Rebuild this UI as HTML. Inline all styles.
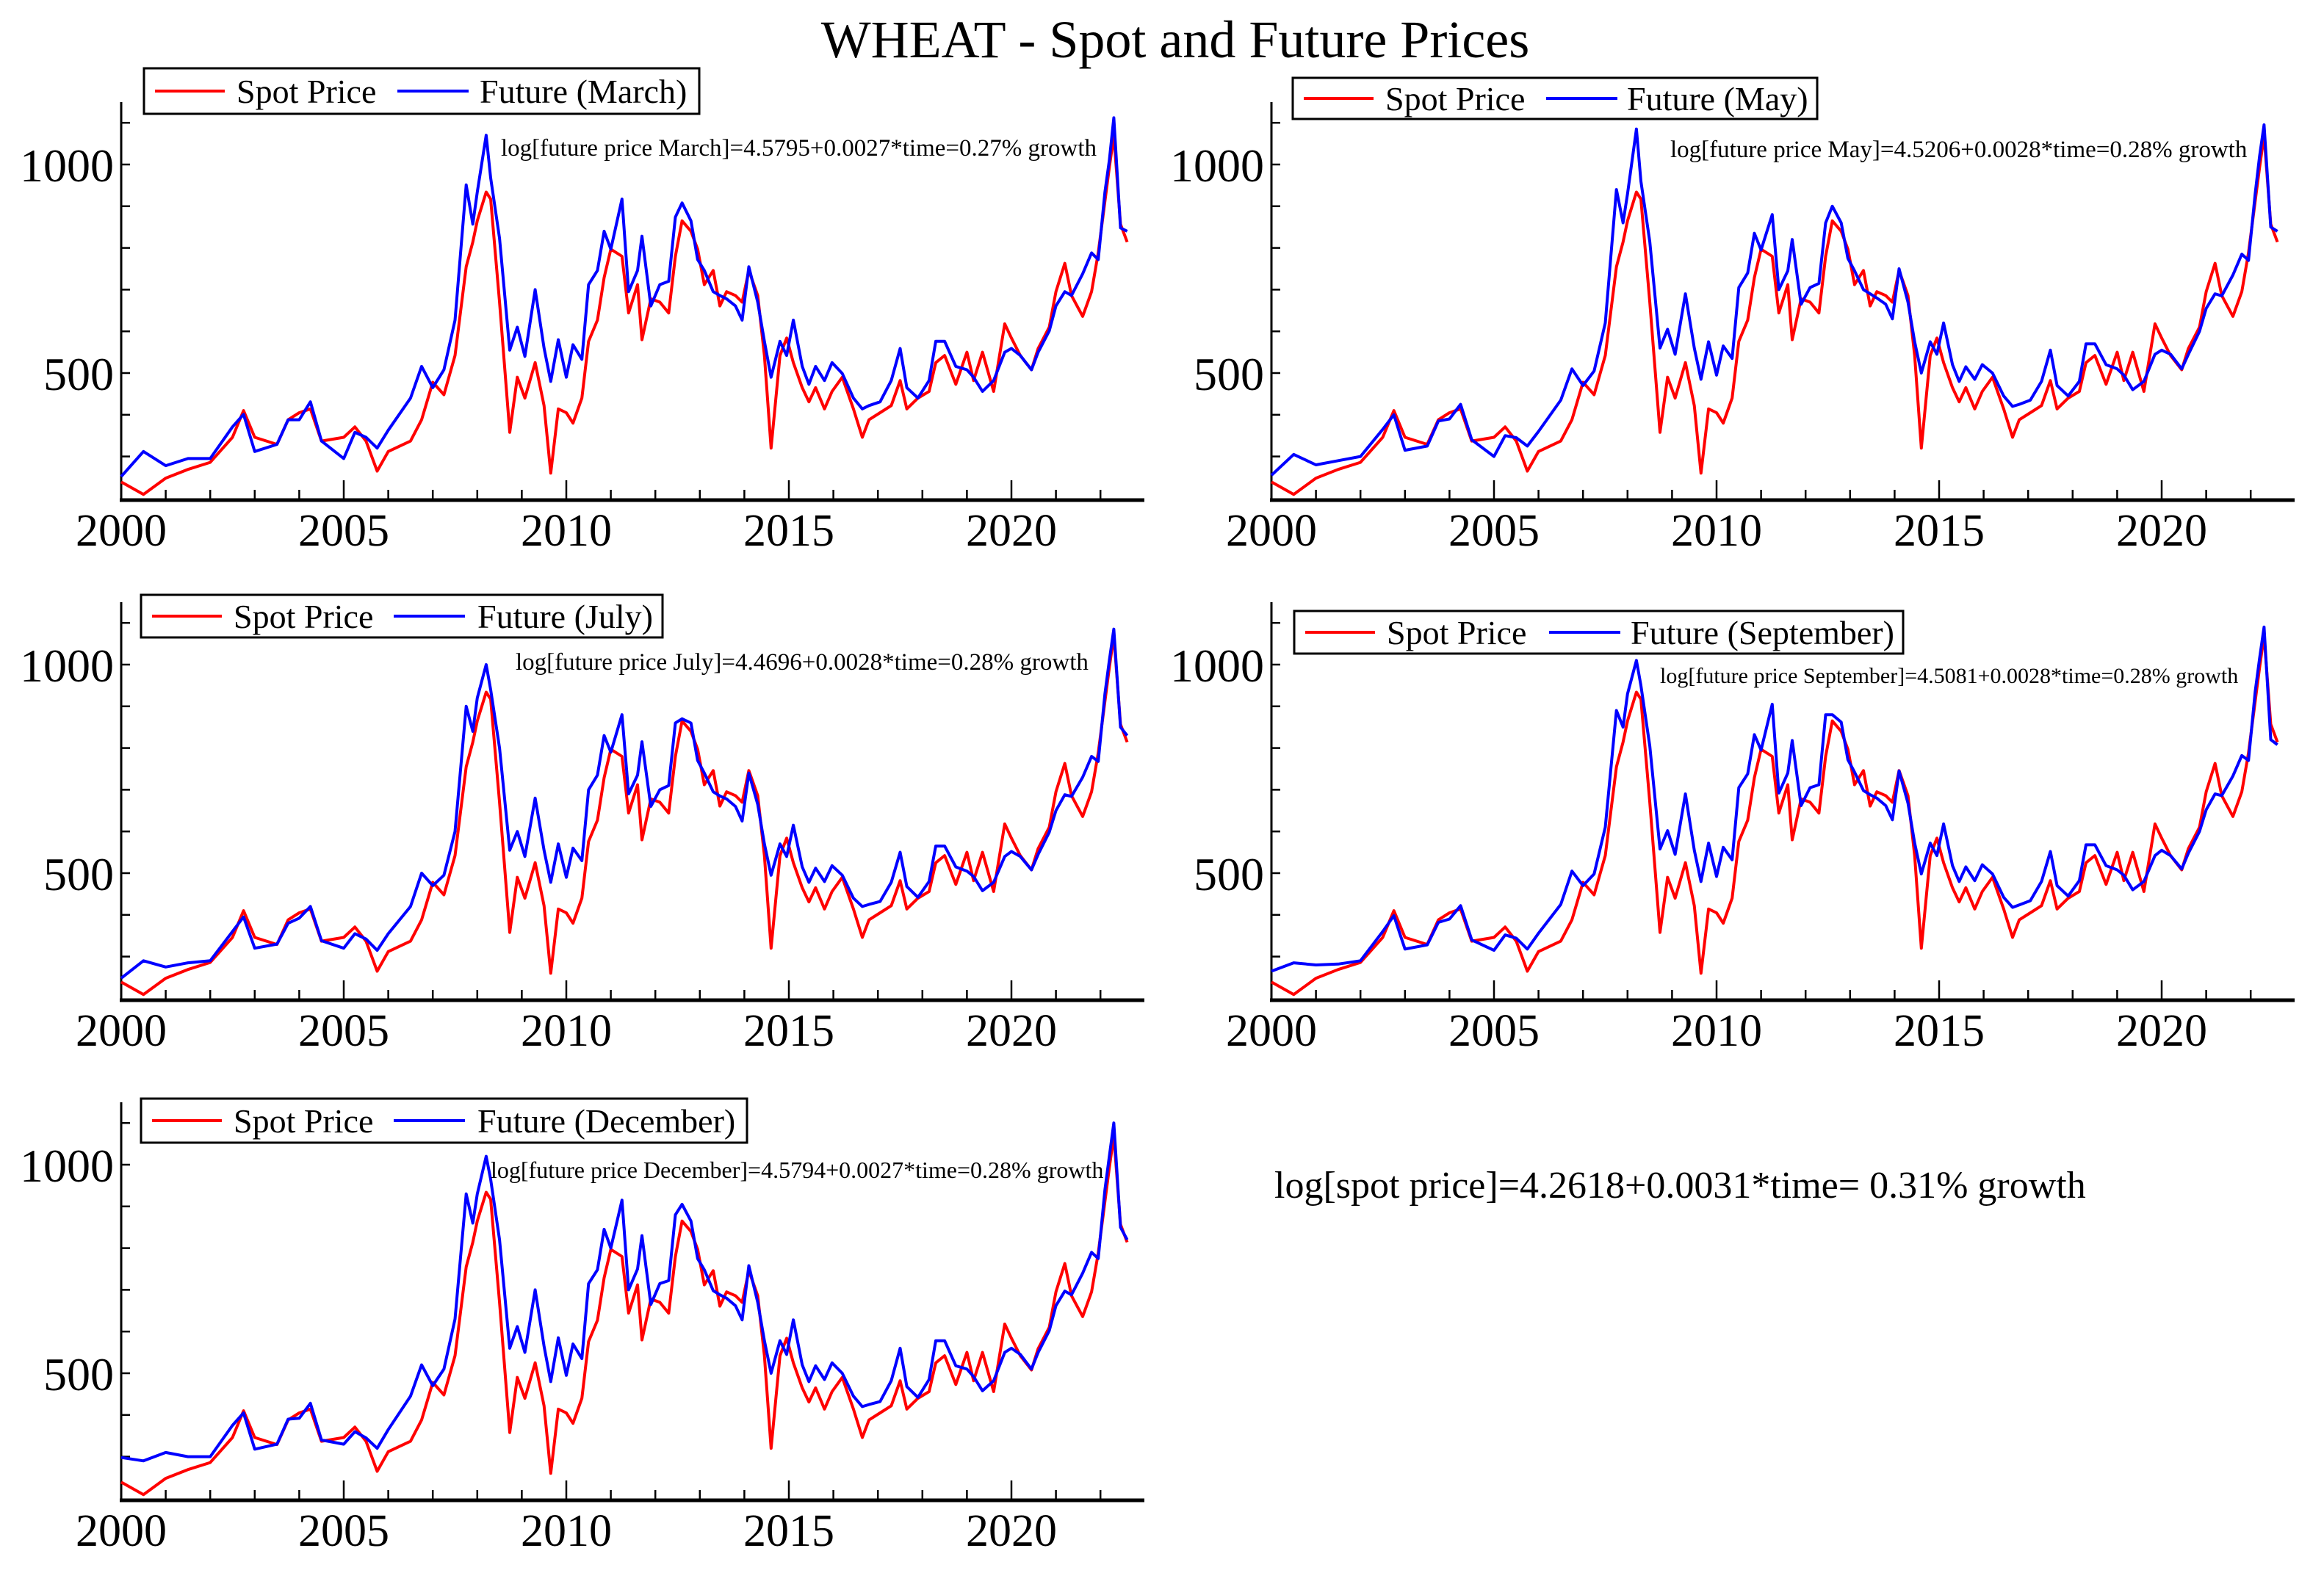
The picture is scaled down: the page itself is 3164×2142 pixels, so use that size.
<!DOCTYPE html>
<html><head><meta charset="utf-8"><style>
html,body{margin:0;padding:0;background:#fff;}
svg{display:block;}
text{font-family:"Liberation Serif",serif;fill:#000;}
</style></head>
<body>
<svg id="chart" width="3164" height="2142" viewBox="0 0 3164 2142" xmlns="http://www.w3.org/2000/svg">
<rect x="0" y="0" width="3164" height="2142" fill="#fff"/>
<text x="1600" y="78" font-size="72" text-anchor="middle">WHEAT - Spot and Future Prices</text>
<text x="1735" y="1631" font-size="52">log[spot price]=4.2618+0.0031*time= 0.31% growth</text>
</svg>
<script>
const times = [2000.0,2000.5,2001.0,2001.5,2002.0,2002.5,2002.75,2003.0,2003.5,2003.75,2004.0,2004.25,2004.5,2005.0,2005.25,2005.5,2005.75,2006.0,2006.5,2006.75,2007.0,2007.25,2007.5,2007.75,2007.9,2008.0,2008.2,2008.3,2008.5,2008.73,2008.9,2009.07,2009.3,2009.5,2009.65,2009.82,2010.0,2010.15,2010.35,2010.5,2010.7,2010.85,2011.0,2011.25,2011.4,2011.6,2011.7,2011.9,2012.1,2012.3,2012.45,2012.6,2012.8,2012.95,2013.1,2013.3,2013.45,2013.6,2013.8,2013.95,2014.1,2014.3,2014.45,2014.6,2014.8,2014.95,2015.1,2015.3,2015.45,2015.6,2015.8,2015.97,2016.2,2016.45,2016.65,2016.8,2017.05,2017.3,2017.5,2017.65,2017.9,2018.15,2018.3,2018.5,2018.75,2019.0,2019.15,2019.35,2019.6,2019.85,2020.0,2020.2,2020.45,2020.6,2020.85,2021.0,2021.2,2021.35,2021.6,2021.8,2021.95,2022.1,2022.2,2022.3,2022.45,2022.6];
const spot = [239,209,248,269,286,346,410,346,329,388,405,414,337,346,371,337,265,312,337,388,478,448,542,755,814,865,934,917,670,358,490,440,525,422,260,414,405,380,440,576,627,729,797,780,644,712,580,678,670,644,780,865,840,797,712,746,661,695,686,670,746,686,542,320,542,584,525,465,431,465,414,456,490,414,346,388,405,422,482,414,440,456,525,542,473,550,482,550,456,618,584,542,508,559,610,695,763,686,636,695,788,912,993,1070,857,814];
const futMarch = [252,312,278,295,295,371,401,312,329,388,388,431,337,295,358,346,320,363,440,516,465,508,627,951,857,934,1070,968,823,555,610,540,700,560,480,580,490,568,533,712,746,840,797,917,695,746,828,661,712,720,874,908,865,772,746,695,686,678,661,627,755,670,576,490,576,542,627,516,473,516,482,525,499,440,414,422,431,482,559,465,440,482,576,576,516,508,490,456,482,550,559,542,508,550,601,661,695,686,738,788,772,934,1010,1112,848,840];
const futMay = [255,305,280,290,300,365,400,315,325,385,390,425,340,300,350,345,325,360,435,510,470,505,620,940,860,930,1085,960,815,560,605,545,690,560,485,575,495,565,535,705,740,835,795,880,700,745,820,665,705,715,860,900,860,775,745,700,690,680,665,630,750,670,575,500,575,545,620,520,480,515,485,520,500,445,420,425,435,480,555,470,445,480,570,570,520,510,495,460,480,545,555,545,510,545,600,655,690,685,735,785,770,930,1020,1095,850,840];
const futJuly = [248,290,275,285,290,360,395,320,330,380,392,420,338,320,355,342,315,355,420,500,470,495,600,900,840,920,1000,940,800,555,600,540,680,555,478,570,490,560,530,700,735,830,790,880,690,735,815,660,700,710,860,870,860,770,740,695,685,678,660,625,740,665,570,495,570,540,615,515,478,512,480,518,495,440,420,425,432,478,550,468,442,480,565,565,515,505,492,458,478,540,552,540,508,545,598,650,688,684,730,780,768,930,1010,1085,850,830];
const futSep = [265,285,280,282,290,360,398,318,328,382,390,422,340,315,352,344,318,356,425,505,470,498,610,890,850,930,1010,950,805,558,602,545,690,555,480,572,492,562,532,705,738,832,795,905,692,740,818,662,705,712,880,880,862,772,742,698,688,680,662,628,745,668,572,498,572,542,618,518,480,515,482,520,498,442,418,424,434,480,552,470,445,482,568,568,518,508,495,460,480,542,555,542,510,548,600,652,690,686,733,782,770,935,1015,1090,820,808];
const futDec = [298,290,310,300,300,375,405,318,330,390,392,428,340,330,360,345,320,365,445,520,470,510,630,930,860,930,1020,965,820,560,612,550,700,565,480,585,495,570,535,715,748,845,800,915,700,750,830,665,715,722,880,905,865,775,748,698,688,680,662,628,758,670,578,500,578,545,628,520,480,518,485,525,500,445,420,425,432,482,560,468,442,485,578,578,518,510,492,458,482,550,560,545,510,550,602,662,697,688,740,790,775,940,1020,1100,850,820];

const panels = [
 {name:'march', label:'Future (March)', fut:futMarch, x0:165, dy:0, leg:[196,93,756,62], legBlue:541, legText2:653, note:'log[future price March]=4.5795+0.0027*time=0.27% growth', nx:682, ny:212, nfs:33},
 {name:'may', label:'Future (May)', fut:futMay, x0:1731, dy:0, leg:[1760,106,714,56], legBlue:2105, legText2:2215, note:'log[future price May]=4.5206+0.0028*time=0.28% growth', nx:2274, ny:214, nfs:33},
 {name:'july', label:'Future (July)', fut:futJuly, x0:165, dy:681, leg:[192,810,710,58], legBlue:536, legText2:650, note:'log[future price July]=4.4696+0.0028*time=0.28% growth', nx:702, ny:912, nfs:33},
 {name:'september', label:'Future (September)', fut:futSep, x0:1731, dy:681, leg:[1762,832,829,58], legBlue:2109, legText2:2220, note:'log[future price September]=4.5081+0.0028*time=0.28% growth', nx:2260, ny:930, nfs:30},
 {name:'december', label:'Future (December)', fut:futDec, x0:165, dy:1362, leg:[192,1496,825,60], legBlue:536, legText2:650, note:'log[future price December]=4.5794+0.0027*time=0.28% growth', nx:668, ny:1604, nfs:32}
];
const yTickVals = [300,400,500,600,700,800,900,1000,1100];
const yLabelVals = [500,1000];
const xLabelYears = [2000,2005,2010,2015,2020];

const svg = document.getElementById('chart');
const NS = 'http://www.w3.org/2000/svg';
function mk(tag, attrs){const e=document.createElementNS(NS,tag);for(const k in attrs)e.setAttribute(k,attrs[k]);svg.appendChild(e);return e;}

panels.forEach(p=>{
  const xs = t => p.x0 + (t-2000)*60.6;
  const ys = v => p.dy + 224 - (v-1000)*0.568;
  const yBot = p.dy + 681, yTop = p.dy + 139, xEnd = p.x0 + 1393;
  const ya = mk('line',{x1:p.x0,y1:yTop,x2:p.x0,y2:yBot,stroke:'#000','stroke-width':3});
  
  
  const xa = mk('line',{x1:p.x0-2,y1:yBot,x2:xEnd,y2:yBot,stroke:'#000','stroke-width':5});
  
  
  for(let yr=2000; yr<=2022; yr++){
    const big = yr%5===0;
    const tk = mk('line',{x1:xs(yr),y1:yBot,x2:xs(yr),y2:yBot-(big?27:14),stroke:'#000','stroke-width':2.5});
    
    
  }
  xLabelYears.forEach(yr=>{
    const t = mk('text',{x:xs(yr),y:yBot+62,'font-size':62,'text-anchor':'middle'});
    t.textContent = yr;
    
    
  });
  yTickVals.forEach(v=>{
    const tk = mk('line',{x1:p.x0,y1:ys(v),x2:p.x0+12,y2:ys(v),stroke:'#000','stroke-width':2.5});
    
    
  });
  yLabelVals.forEach(v=>{
    const t = mk('text',{x:p.x0-10,y:ys(v)+23,'font-size':64,'text-anchor':'end'});
    t.textContent = v;
    
    
  });
  const pts = arr => arr.map((v,i)=>xs(times[i]).toFixed(1)+','+ys(v).toFixed(1)).join(' ');
  const rl = mk('polyline',{points:pts(spot),fill:'none',stroke:'#ff0000','stroke-width':4,'stroke-linejoin':'round'});
  
  
  const sl = mk('polyline',{points:pts(p.fut),fill:'none',stroke:'#0000ff','stroke-width':4,'stroke-linejoin':'round'});
  
  
  const [lx,ly,lw,lh] = p.leg;
  const box = mk('rect',{x:lx,y:ly,width:lw,height:lh,fill:'#fff',stroke:'#000','stroke-width':3});
  
  
  const cy = ly + lh/2;
  const l1 = mk('line',{x1:lx+15,y1:cy,x2:lx+110,y2:cy,stroke:'#ff0000','stroke-width':4});
  
  
  const t1 = mk('text',{x:lx+126,y:cy+16,'font-size':46});
  t1.textContent = 'Spot Price';
  
  
  const l2 = mk('line',{x1:p.legBlue,y1:cy,x2:p.legBlue+97,y2:cy,stroke:'#0000ff','stroke-width':4});
  
  
  const t2 = mk('text',{x:p.legText2,y:cy+16,'font-size':46});
  t2.textContent = p.label;
  
  
  const nt = mk('text',{x:p.nx,y:p.ny,'font-size':p.nfs});
  nt.textContent = p.note;
  
  
});
</script>
</body></html>
